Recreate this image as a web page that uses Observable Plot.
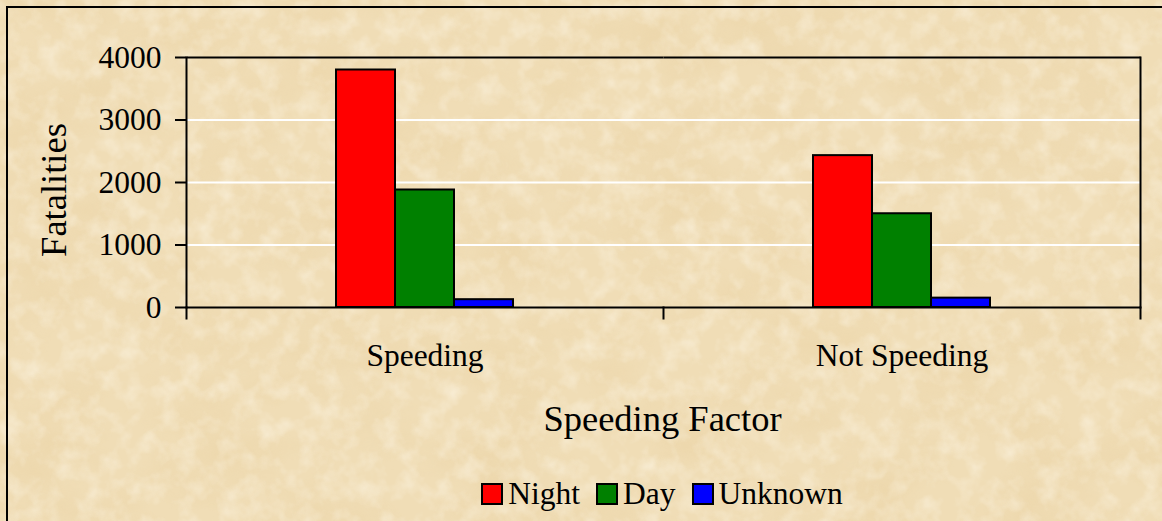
<!DOCTYPE html>
<html>
<head>
<meta charset="utf-8">
<script src="https://cdn.jsdelivr.net/npm/d3@7"></script>
<script src="https://cdn.jsdelivr.net/npm/@observablehq/plot@0.6"></script>
<style>
  html, body { margin: 0; padding: 0; background: #F0DDB7; }
  #wrap { position: relative; width: 1162px; height: 521px; overflow: hidden; font-family: "Liberation Serif", "Times New Roman", serif; }
  #bg { position: absolute; left: 0; top: 0; }
  #border { position: absolute; left: 6px; top: 6px; width: 1300px; height: 700px; border-left: 2px solid #000; border-top: 2px solid #000; }
  #chart { position: absolute; left: 0; top: 0; }
  #legend { position: absolute; left: 185px; width: 955px; top: 476px; }
  .lg-swatches { justify-content: center !important; margin: 0 !important; }
  .lg-swatch { margin-right: 17px !important; }
  .lg-swatch:last-child { margin-right: 0 !important; }
  .lg-swatch > svg { margin-right: 6px !important; overflow: visible !important; }
  .lg-swatch svg rect { stroke: #000; stroke-width: 2px; }
</style>
</head>
<body>
<div id="wrap">
  <svg id="bg" width="1162" height="521">
    <defs>
      <filter id="tex" x="0" y="0" width="100%" height="100%" filterUnits="userSpaceOnUse">
        <feTurbulence type="fractalNoise" baseFrequency="0.011 0.016" numOctaves="5" seed="7" result="n"/>
        <feColorMatrix in="n" type="matrix" values="0 0 0 0 0.82  0 0 0 0 0.64  0 0 0 0 0.36  1.7 0 0 0 -0.66"/>
      </filter>
      <filter id="tex2" x="0" y="0" width="100%" height="100%" filterUnits="userSpaceOnUse">
        <feTurbulence type="fractalNoise" baseFrequency="0.05" numOctaves="3" seed="21" result="n"/>
        <feColorMatrix in="n" type="matrix" values="0 0 0 0 1  0 0 0 0 0.96  0 0 0 0 0.86  1.8 0 0 0 -0.75"/>
      </filter>
    </defs>
    <rect width="1162" height="521" fill="#F0DDB6"/>
    <rect width="1162" height="521" filter="url(#tex)" opacity="0.55"/>
    <rect width="1162" height="521" filter="url(#tex2)" opacity="0.5"/>
  </svg>
  <div id="border"></div>
  <div id="chart"></div>
  <div id="legend"></div>
</div>
<script>
// ---- data ----
const categories = ["Speeding", "Not Speeding"];
const series = ["Night", "Day", "Unknown"];
const nightValues = [3800, 2430];
const dayValues = [1880, 1500];
const unknownValues = [125, 150];
const seriesColors = ["#FF0000", "#008000", "#0000FF"];
const yTicks = [0, 1000, 2000, 3000, 4000];
const xTitle = "Speeding Factor";
const yTitle = "Fatalities";

const valuesBySeries = [nightValues, dayValues, unknownValues];
const rows = [];
categories.forEach((c, ci) => {
  series.forEach((s, si) => rows.push({category: c, series: s, value: valuesBySeries[si][ci]}));
});

// ---- layout ----
const W = 1162, H = 470;
const mL = 185, mR = 22, mT = 57, mB = H - 307;
const plotH = H - mT - mB;
const font = '"Liberation Serif", "Times New Roman", serif';

const plot = Plot.plot({
  width: W, height: H,
  marginLeft: mL, marginRight: mR, marginTop: mT, marginBottom: mB,
  style: {background: "transparent", fontFamily: font, fontSize: "31.5px", color: "#000", overflow: "visible"},
  facet: {data: rows, x: "category"},
  fx: {domain: categories, padding: 0, label: null},
  x: {domain: series, paddingInner: 0, paddingOuter: 2.48, axis: null},
  y: {domain: [yTicks[0], yTicks[yTicks.length - 1]], label: null},
  color: {domain: series, range: seriesColors},
  marks: [
    Plot.gridY(yTicks.slice(1, -1), {stroke: "#fff", strokeOpacity: 1, strokeWidth: 2}),
    Plot.barY(rows, {x: "series", y: "value", fill: "series", stroke: "#000", strokeWidth: 2}),
    Plot.ruleY([0], {stroke: "#000", strokeWidth: 2}),
    Plot.frame({anchor: "top", stroke: "#000", strokeWidth: 2, strokeLinecap: "butt"}),
    Plot.frame({anchor: "left", facetAnchor: "left", stroke: "#000", strokeWidth: 2}),
    Plot.frame({anchor: "right", facetAnchor: "right", stroke: "#000", strokeWidth: 2}),
    Plot.frame({anchor: "left", insetTop: plotH, insetBottom: -11, stroke: "#000", strokeWidth: 2}),
    Plot.frame({anchor: "right", facetAnchor: "right", insetTop: plotH, insetBottom: -11, stroke: "#000", strokeWidth: 2}),
    Plot.axisY(yTicks, {tickSize: 11, tickPadding: 14, tickFormat: "d", stroke: "#000", strokeWidth: 2, label: null}),
    Plot.axisFx({anchor: "bottom", tickSize: 0, tickPadding: 36, label: null})
  ]
});

const svg = d3.select(plot);
svg.append("text")
  .attr("x", (mL + W - mR) / 2).attr("y", 431)
  .attr("text-anchor", "middle")
  .attr("font-family", font).attr("font-size", 36.5).attr("fill", "#000")
  .text(xTitle);
svg.append("text")
  .attr("transform", "translate(66,190) rotate(-90)")
  .attr("text-anchor", "middle")
  .attr("font-family", font).attr("font-size", 36.5).attr("fill", "#000")
  .text(yTitle);

document.getElementById("chart").appendChild(plot);

const legend = Plot.legend({
  color: {domain: series, range: seriesColors},
  legend: "swatches",
  swatchSize: 20,
  className: "lg",
  style: {fontFamily: font, fontSize: "31.5px", color: "#000"}
});
document.getElementById("legend").appendChild(legend);
</script>
</body>
</html>
